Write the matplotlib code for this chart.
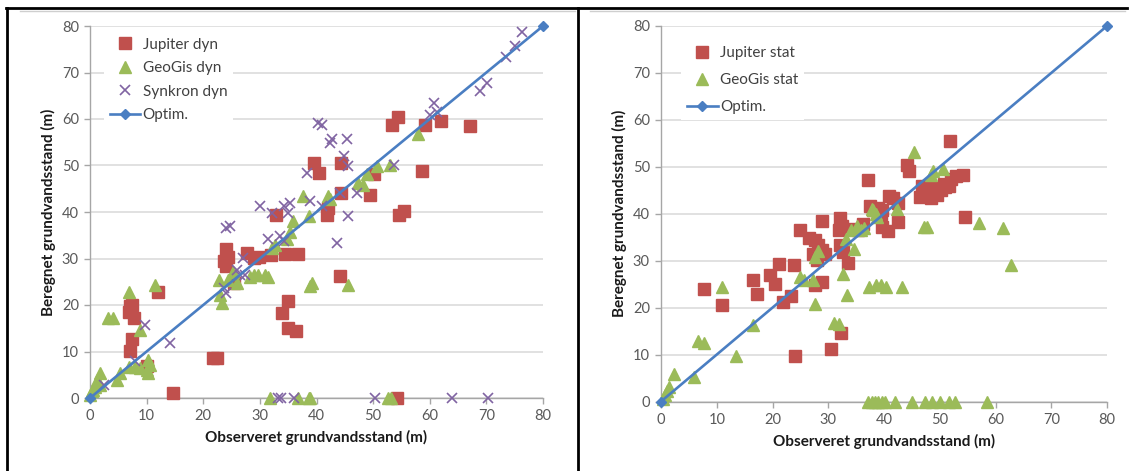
import matplotlib
matplotlib.use("Agg")
import matplotlib.pyplot as plt
from matplotlib.lines import Line2D

plt.rcParams['font.family'] = ['Lato', 'DejaVu Sans']

# ---------------- data: left panel (dynamic) ----------------
jup_dyn_x = [53.4, 54.4, 59.2, 61.9, 67.1, 58.6, 39.5, 40.5, 44.4, 50.1, 49.5, 44.4, 54.5, 55.4,
             41.8, 42.0, 32.8, 24.1, 24.3, 23.7, 24.0, 27.8, 28.9, 29.9, 31.9, 34.5, 36.8, 25.5,
             44.1, 35.0, 33.9, 35.0, 36.4, 12.0, 7.0, 6.9, 7.7, 7.5, 7.5, 7.0, 21.7, 22.4, 10.1,
             14.7, 54.2]
jup_dyn_y = [58.7, 60.4, 58.7, 59.6, 58.6, 48.8, 50.6, 48.4, 50.6, 48.1, 43.7, 44.1, 39.3, 40.2,
             39.4, 40.8, 39.4, 32.0, 30.4, 29.4, 28.3, 31.2, 30.1, 30.3, 30.8, 31.0, 31.0, 24.7,
             26.3, 20.8, 18.2, 15.0, 14.4, 22.7, 19.7, 18.6, 17.2, 20.0, 12.7, 10.1, 8.6, 8.6, 6.8,
             1.1, 0.1]

geo_dyn_x = [58.0, 50.7, 53.0, 48.9, 47.4, 48.3, 42.1, 42.4, 37.7, 38.6, 35.9, 35.3, 34.8, 32.1,
             32.6, 28.3, 28.9, 29.7, 30.9, 31.5, 25.3, 24.4, 25.9, 22.7, 23.0, 23.3, 39.2, 38.9,
             45.6, 6.9, 11.5, 3.2, 4.1, 8.8, 10.3, 10.6, 6.8, 8.0, 8.8, 10.0, 10.3, 5.3, 4.7, 1.8,
             1.2, 0.9, 0.3, 0.0, 1.8, 0.6, 31.8, 36.8, 38.6, 38.9, 52.6, 53.1]
geo_dyn_y = [56.7, 49.9, 50.0, 48.1, 46.3, 45.9, 43.4, 42.7, 43.4, 39.2, 38.0, 35.8, 34.1, 32.3,
             33.0, 26.1, 26.5, 26.5, 26.5, 26.1, 27.2, 25.4, 24.7, 25.4, 22.2, 20.4, 24.7, 24.0,
             24.4, 22.7, 24.4, 17.2, 17.2, 14.7, 8.2, 7.1, 6.7, 6.7, 6.4, 6.0, 5.3, 5.3, 3.9, 5.3,
             3.9, 2.4, 1.4, 0.6, 2.8, 1.7, 0, 0, 0, 0, 0, 0]

syn_dyn_x = [76.3, 75.0, 73.4, 70.1, 68.9, 60.7, 60.1, 61.3, 40.3, 40.9, 42.7, 42.4, 45.4, 44.8,
             45.6, 38.3, 53.6, 47.1, 44.2, 45.6, 43.6, 38.9, 40.9, 30.0, 32.1, 34.2, 35.0, 35.3,
             31.5, 33.6, 34.2, 24.7, 24.1, 23.6, 24.1, 26.5, 25.9, 27.1, 27.4, 9.7, 14.1, 8.0,
             2.4, 33.2, 33.7, 36.1, 50.4, 63.9, 70.2]
syn_dyn_y = [78.8, 75.6, 73.4, 67.8, 66.0, 63.5, 60.8, 61.4, 59.2, 58.7, 55.6, 54.9, 55.6, 52.0,
             49.9, 48.4, 50.2, 44.1, 44.1, 39.2, 33.3, 42.3, 41.2, 41.2, 39.8, 41.2, 39.8, 42.0,
             34.2, 34.8, 33.7, 36.9, 36.6, 23.6, 22.6, 26.5, 27.6, 30.1, 26.5, 15.7, 11.9, 8.0,
             2.8, 0, 0, 0, 0, 0, 0]

# ---------------- data: right panel (static) ----------------
jup_stat_x = [51.9, 44.1, 44.5, 37.1, 54.1, 53.0, 52.0, 50.7,
              46.5, 47.0, 47.5, 48.0, 48.6, 49.2, 49.5, 50.2, 51.0, 51.6, 46.8, 48.4,
              54.5, 40.9, 41.7, 42.5, 37.5, 38.1, 39.0, 39.4, 39.7, 42.5, 39.6, 40.7, 36.2, 34.6,
              35.3, 32.1, 31.9, 32.4, 32.1, 32.7, 33.5, 28.9, 24.9, 26.6, 27.6, 28.1, 28.9, 29.5,
              27.3, 27.9, 28.9, 27.6, 23.8, 21.2, 20.4, 19.5, 16.5, 17.2, 21.9, 23.3, 7.8, 11.0,
              32.3, 30.5, 24.0]
jup_stat_y = [55.4, 50.3, 49.2, 47.2, 48.2, 48.0, 47.5, 46.4,
              43.6, 44.8, 45.6, 43.8, 44.6, 45.4, 44.0, 45.0, 45.6, 46.0, 46.0, 43.4,
              39.3, 43.7, 43.3, 42.3, 41.6, 40.9, 41.3, 39.9, 40.9, 38.2, 37.2, 36.3, 37.9, 36.8,
              36.5, 39.0, 36.6, 37.3, 33.3, 31.9, 29.6, 38.5, 36.6, 34.9, 34.4, 33.3, 32.2, 31.5,
              31.5, 30.1, 25.5, 24.8, 29.0, 29.4, 25.1, 26.9, 25.8, 22.9, 21.2, 22.4, 23.9, 20.5,
              14.7, 11.2, 9.6]

geo_stat_x = [45.3, 48.7, 50.6, 48.4, 42.3, 37.8, 38.5, 38.8, 38.1, 34.0, 35.1, 35.9, 36.5, 33.2,
              34.6, 32.7, 33.4, 27.6, 28.1, 25.0, 25.7, 27.3, 27.6, 31.1, 31.9, 37.3, 38.5, 39.4,
              40.4, 43.3, 47.1, 47.7, 57.0, 61.3, 62.7, 11.0, 16.5, 6.7, 7.8, 13.4, 2.4, 5.9, 1.4,
              1.1, 0.8, 0.4,
              37.2, 37.8, 38.4, 39.0, 39.6, 40.2, 42.0, 45.0, 47.4, 48.6, 50.0, 51.6, 52.8, 58.5]
geo_stat_y = [53.1, 49.1, 49.6, 48.2, 41.1, 41.1, 40.0, 39.3, 40.7, 36.6, 37.3, 36.6, 37.0, 34.7,
              32.5, 27.2, 22.6, 30.8, 32.1, 26.5, 25.8, 25.8, 20.8, 16.7, 16.6, 24.4, 24.8, 24.8,
              24.4, 24.4, 37.2, 37.2, 38.0, 37.0, 29.0, 24.4, 16.2, 12.9, 12.4, 9.8, 5.9, 5.2, 3.1,
              2.3, 1.3, 0.6,
              0, 0, 0, 0, 0, 0, 0, 0, 0, 0, 0, 0, 0, 0]

optim_x = [0, 80]
optim_y = [0, 80]

x_ticks = [0, 10, 20, 30, 40, 50, 60, 70, 80]
y_ticks = [0, 10, 20, 30, 40, 50, 60, 70, 80]
x_label = "Observeret grundvandsstand (m)"
y_label = "Beregnet grundvandsstand (m)"

RED = "#C0504D"
GREEN = "#9BBB59"
PURPLE = "#8064A2"
BLUE = "#4A7EC2"
GRID = "#D9D9D9"
AXC = "#A6A6A6"
TICKC = "#595959"

W, H = 1137, 471
fig = plt.figure(figsize=(W / 100, H / 100), dpi=100)
fig.patch.set_facecolor("white")


def style_axes(ax):
    ax.set_xlim(0, 80)
    ax.set_ylim(0, 80)
    ax.set_xticks(x_ticks)
    ax.set_yticks(y_ticks)
    for s in ("top", "right"):
        ax.spines[s].set_visible(False)
    for s in ("left", "bottom"):
        ax.spines[s].set_color(AXC)
        ax.spines[s].set_linewidth(1.0)
    ax.yaxis.grid(True, color=GRID, linewidth=1.1)
    ax.set_axisbelow(True)
    ax.tick_params(axis="both", direction="out", length=4, width=1, color=AXC,
                   labelcolor=TICKC, labelsize=10.5, pad=4)
    ax.set_xlabel(x_label, fontsize=11, fontweight="bold", color="#1a1a1a", labelpad=5)
    ax.set_ylabel(y_label, fontsize=11, fontweight="bold", color="#1a1a1a", labelpad=4)


def sq(ax, x, y, label):
    ax.plot(x, y, linestyle="none", marker="s", ms=8.0, color=RED, mec=RED, label=label,
            clip_on=False, zorder=3)


def tri(ax, x, y, label):
    ax.plot(x, y, linestyle="none", marker="^", ms=8.5, color=GREEN, mec=GREEN, label=label,
            clip_on=False, zorder=3)


def optim(ax):
    ax.plot(optim_x, optim_y, color=BLUE, linewidth=1.9, marker="D", ms=5.5, mec=BLUE,
            label="Optim.", clip_on=False, zorder=5)


# left axes
ax1 = fig.add_axes([90 / W, (H - 398) / H, 453 / W, 372 / H])
style_axes(ax1)
sq(ax1, jup_dyn_x, jup_dyn_y, "Jupiter dyn")
tri(ax1, geo_dyn_x, geo_dyn_y, "GeoGis dyn")
ax1.plot(syn_dyn_x, syn_dyn_y, linestyle="none", marker="x", ms=7.5, mew=1.2, color=PURPLE,
         label="Synkron dyn", clip_on=False, zorder=4)
optim(ax1)
leg1 = ax1.legend(loc="upper left", bbox_to_anchor=(0.03, 0.985), frameon=True,
                  fancybox=False, edgecolor="none", facecolor="white", framealpha=1,
                  fontsize=11, handlelength=2.0, handletextpad=0.15, labelspacing=0.62,
                  borderpad=0.4, borderaxespad=0)
for t in leg1.get_texts():
    t.set_color("#404040")

# right axes
ax2 = fig.add_axes([661 / W, (H - 401.5) / H, 446 / W, 375.5 / H])
style_axes(ax2)
sq(ax2, jup_stat_x, jup_stat_y, "Jupiter stat")
tri(ax2, geo_stat_x, geo_stat_y, "GeoGis stat")
optim(ax2)
leg2 = ax2.legend(loc="upper left", bbox_to_anchor=(0.045, 0.962), frameon=True,
                  fancybox=False, edgecolor="none", facecolor="white", framealpha=1,
                  fontsize=11, handlelength=2.0, handletextpad=0.15, labelspacing=0.85,
                  borderpad=0.4, borderaxespad=0)
for t in leg2.get_texts():
    t.set_color("#404040")

# table frame lines
ytop = 1 - 8 / H
fig.add_artist(Line2D([6 / W, 1127 / W], [ytop, ytop], color="black", linewidth=2,
                      transform=fig.transFigure))
fig.add_artist(Line2D([20 / W, 575 / W], [ytop - 3 / H, ytop - 3 / H], color="#CFCFCF",
                      linewidth=1, transform=fig.transFigure))
fig.add_artist(Line2D([590 / W, 1125 / W], [ytop - 3 / H, ytop - 3 / H], color="#CFCFCF",
                      linewidth=1, transform=fig.transFigure))
fig.add_artist(Line2D([7 / W, 7 / W], [0, ytop], color="black", linewidth=2,
                      transform=fig.transFigure))
fig.add_artist(Line2D([578 / W, 578 / W], [0, ytop], color="black", linewidth=2,
                      transform=fig.transFigure))

fig.savefig("out.png", dpi=100, facecolor="white")
